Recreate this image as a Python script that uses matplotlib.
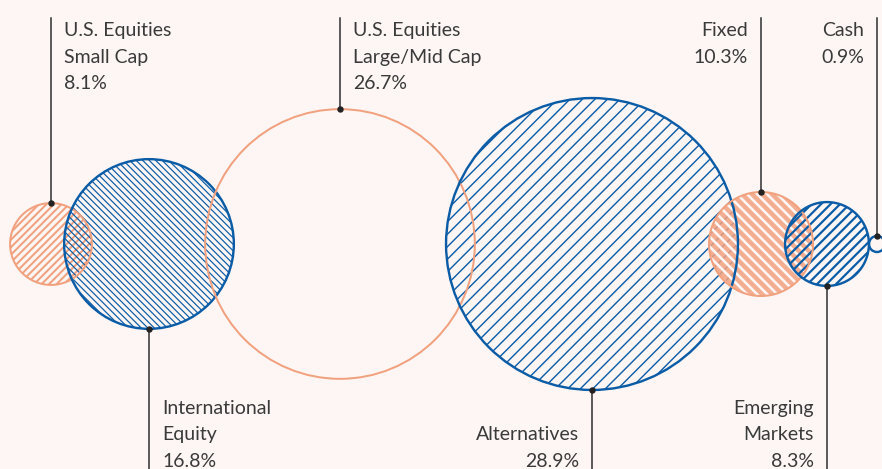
import numpy as np
import matplotlib.pyplot as plt
from matplotlib.patches import Circle
from matplotlib.collections import LineCollection

# ------- data (allocation, %)
labels = ['U.S. Equities\nSmall Cap', 'International\nEquity',
          'U.S. Equities\nLarge/Mid Cap', 'Alternatives', 'Fixed',
          'Emerging\nMarkets', 'Cash']
weights = [8.1, 16.8, 26.7, 28.9, 10.3, 8.3, 0.9]

# ------- layout (pixels, y grows downwards)
W, H = 882, 469
centers_x = [51, 149, 340, 592, 761, 827, 877]
center_y = 244
px_per_pct = 5.05
min_radius = 8
label_side = ['top', 'bottom', 'top', 'bottom', 'top', 'bottom', 'top']
label_align = ['left', 'left', 'left', 'right', 'right', 'right', 'right']

orange = '#F2A17F'
blue = '#0B5CA6'
bg = '#FDF6F4'
ink = '#3a3a3a'

# style per circle: edge colour, fill, hatch dir, hatch step, hatch colour, hatch lw (px)
styles = [
    dict(edge=orange, fill=None, hdir='/', step=7.5, hcol=orange, hlw=2.0),
    dict(edge=blue, fill=None, hdir='\\', step=6.5, hcol=blue, hlw=1.2),
    dict(edge=orange, fill=None, hdir=None, step=0, hcol=None, hlw=0),
    dict(edge=blue, fill=None, hdir='/', step=12.5, hcol=blue, hlw=1.4),
    dict(edge=orange, fill=orange, hdir='\\', step=10, hcol=bg, hlw=2.6),
    dict(edge=blue, fill=None, hdir='/', step=9.5, hcol=blue, hlw=2.2),
    dict(edge=blue, fill=bg, hdir=None, step=0, hcol=None, hlw=0),
]

PT = 72 / 100  # points per pixel at dpi 100
FS = 14
LS = 1.68


def add_hatch(ax, circ, hdir, step, color, lw, z):
    cx, cy = circ.center
    r = circ.radius
    segs = []
    for c in np.arange(-2 * r, 2 * r + step, step):
        if hdir == '/':
            segs.append([(cx + c - r, cy + r), (cx + c + r, cy - r)])
        else:
            segs.append([(cx + c - r, cy - r), (cx + c + r, cy + r)])
    lc = LineCollection(segs, colors=color, linewidths=lw * PT, zorder=z)
    ax.add_collection(lc)
    lc.set_clip_path(circ)


plt.rcParams['font.family'] = ['Lato', 'DejaVu Sans']

fig = plt.figure(figsize=(W / 100, H / 100), dpi=100)
fig.patch.set_facecolor(bg)
ax = fig.add_axes([0, 0, 1, 1])
ax.set_xlim(0, W)
ax.set_ylim(H, 0)
ax.set_aspect('equal')
ax.axis('off')

for i, (lab, w, cx) in enumerate(zip(labels, weights, centers_x)):
    st = styles[i]
    r = max(w * px_per_pct, min_radius)
    z = 1 + i * 0.1

    clip = Circle((cx, center_y), r, transform=ax.transData, facecolor='none',
                  edgecolor='none')
    ax.add_patch(clip)
    if st['fill'] is not None:
        ax.add_patch(Circle((cx, center_y), r, facecolor=st['fill'],
                            edgecolor='none',
                            alpha=0.85 if st['fill'] != bg else 1, zorder=z))
    if st['hdir']:
        add_hatch(ax, clip, st['hdir'], st['step'], st['hcol'], st['hlw'], z + 0.01)
    lw_edge = 2.0 if st['edge'] == orange else 2.4
    ax.add_patch(Circle((cx, center_y), r, facecolor='none',
                        edgecolor=st['edge'], linewidth=lw_edge * PT, zorder=3 + i * 0.1))

    # leader line + dot
    text = f'{lab}\n{w}%'
    dx = 13 if label_align[i] == 'left' else -13
    if label_side[i] == 'top':
        y0, y1 = 18, center_y - r
        ax.text(cx + dx, 22, text, ha=label_align[i], va='top', fontsize=FS,
                color=ink, linespacing=LS)
    else:
        y0, y1 = center_y + r, H
        ax.text(cx + dx, H + 1, text, ha=label_align[i], va='bottom',
                fontsize=FS, color=ink, linespacing=LS)
    ax.plot([cx, cx], [y0, y1], color='#2a2a2a', lw=1.5 * PT, zorder=5)
    ax.plot([cx], [center_y - r if label_side[i] == 'top' else center_y + r],
            'o', color='#222222', ms=5 * PT, zorder=6)

fig.savefig('out.png', dpi=100, facecolor=bg)
